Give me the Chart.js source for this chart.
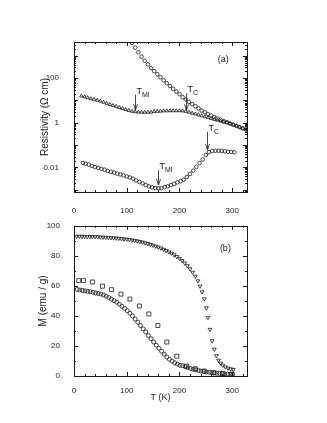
<!DOCTYPE html>
<html>
<head>
<meta charset="utf-8">
<script src="https://cdn.jsdelivr.net/npm/chart.js@4/dist/chart.umd.min.js"></script>
<style>
  body { margin: 0; background: #fff; }
  #wrap { position: relative; width: 327px; height: 423px; }
  #chartA { position: absolute; left: 0; top: 0; }
  #chartB { position: absolute; left: 0; top: 215px; }
</style>
</head>
<body>
<div id="wrap">
  <canvas id="chartA" width="327" height="215"></canvas>
  <canvas id="chartB" width="327" height="208"></canvas>
</div>
<script>
// ---- panel (a): resistivity, log scale ----
var tempUpper = [110,116,122,128,134,140,146,152,158,164,170,176,182,188,194,200,206,212,218,224,230,236,242,248,254,260,266,272,278,284,290,296,302,308,314,320,326];
var rhoUpper = [3800,2340,1450,910,600,410,280,205,150,110,79,59,44,33,25,19,14,11,8.5,6.8,5.5,4.4,3.5,2.95,2.45,2.1,1.8,1.55,1.35,1.17,1.05,0.91,0.81,0.72,0.63,0.56,0.49];

var tempMiddle = [14,20,26,32,38,44,50,56,62,68,74,80,86,92,98,104,110,116,122,128,134,140,146,152,158,164,170,176,182,188,194,200,206,212,218,224,230,236,242,248,254,260,266,272,278,284,290,296,302,308,314,320,326];
var rhoMiddle = [15.8,14.5,13.2,12,11.2,10.2,9.3,8.3,7.4,6.6,5.9,5.4,4.8,4.3,3.9,3.55,3.25,3.1,3.0,2.95,2.95,2.95,3.0,3.15,3.25,3.3,3.4,3.4,3.45,3.45,3.45,3.45,3.4,3.25,2.95,2.7,2.45,2.25,2.05,1.85,1.7,1.55,1.4,1.3,1.17,1.07,1.0,0.91,0.81,0.72,0.63,0.56,0.49];

var tempLower = [17,22,28,34,40,46,52,58,64,70,76,82,88,94,100,106,112,118,124,130,136,142,148,154,160,166,172,178,184,190,196,202,208,214,220,226,232,238,244,250,256,262,268,274,280,286,292,298,304];
var rhoLower = [0.0158,0.0145,0.0132,0.0115,0.0102,0.0093,0.0085,0.0078,0.0069,0.0063,0.0058,0.0052,0.0048,0.0043,0.0039,0.0035,0.0031,0.0026,0.0022,0.0019,0.0016,0.0014,0.00126,0.00117,0.00115,0.00117,0.00129,0.0014,0.0016,0.0018,0.0021,0.0024,0.0028,0.0037,0.0050,0.0071,0.0105,0.0155,0.0224,0.0355,0.048,0.054,0.055,0.055,0.054,0.052,0.050,0.049,0.047];

var rhoTickLabels = [100, 1, 0.01];
var tempTickLabels = [0, 100, 200, 300];

// arrows marking the transitions
var arrowTemps = [116, 212, 160, 253];
var arrowTops = [18, 21, 0.0074, 0.39];
var arrowTips = [3.7, 3.6, 0.0016, 0.06];
var arrowSubs = ['MI', 'C', 'MI', 'C'];

// ---- panel (b): magnetization ----
var tempTri = [5,10,15,20,25,30,35,40,45,50,55,60,65,70,75,80,85,90,95,100,105,110,115,120,125,130,135,140,145,150,155,160,165,170,175,180,185,190,195,200,205,210,215,220,225,230,235,239,243,247,251,254,258,262,266,270,274,278,282,287,292,297,302];
var magTri = [93.0,93.0,92.9,92.9,92.8,92.8,92.7,92.7,92.6,92.5,92.4,92.3,92.2,92.0,91.9,91.8,91.6,91.4,91.2,91.0,90.8,90.5,90.2,89.9,89.5,89.1,88.6,88.1,87.6,87.0,86.4,85.8,85.1,84.3,83.5,82.6,81.7,80.6,79.5,78.2,76.8,75.2,73.4,71.3,69.0,66.4,63.3,59.8,56.0,51.3,45.4,39.0,31.0,23.5,17.8,13.5,10.5,8.5,7.2,6.0,5.2,4.7,4.3];

var tempSq = [9,18,35,54,71,89,106,124,142,159,176,195,213,230,247,265,282,299];
var magSq = [63.5,63.5,62.6,59.8,57.5,54.5,51.2,46.6,41.3,33.6,22.6,13.2,6.6,4.8,3.3,2.2,1.6,1.2];

var tempCirc = [6,11,16,21,26,31,36,41,46,51,56,61,66,71,76,81,86,91,96,101,106,111,116,121,126,131,136,141,146,151,156,161,166,171,176,181,186,191,196,201,206,211,216,221,226,231,236,241,246,251,256,261,266,271,276,281,286,291,296,301];
var magCirc = [57.6,57.3,57.0,56.7,56.4,56.1,55.7,55.3,54.9,54.6,53.9,53.1,52.2,51.2,50.2,49.1,47.8,46.4,45.0,43.5,41.8,39.9,37.9,35.8,33.6,31.4,29.3,27.0,24.8,22.6,20.5,18.5,16.5,14.5,12.6,11.1,9.9,8.8,7.9,7.1,6.9,6.2,5.6,5.0,4.5,4.1,3.7,3.3,3.0,2.7,2.5,2.2,2.0,1.8,1.7,1.6,1.4,1.3,1.2,1.1];

var magTickLabels = [0, 20, 40, 60, 80, 100];

var panelTags = ['(a)', '(b)'];
var tagTemps = [283, 287];
var tagValues = [660, 85];

var FONT = "'Liberation Sans', Arial, sans-serif";
var INK = '#1a1a1a';
Chart.defaults.font.family = FONT;
Chart.defaults.color = INK;

function pts(xs, ys) {
    return xs.map(function (x, i) { return {x: x, y: ys[i]}; });
}

function markerSet(data, style, r, rot) {
    return {
        data: data,
        showLine: false,
        pointStyle: style,
        pointRadius: r,
        pointRotation: rot || 0,
        pointBorderWidth: 0.8,
        pointBorderColor: INK,
        pointBackgroundColor: 'rgba(255,255,255,0)'
    };
}

// frame around the plot with inward ticks on all four sides
var frameTicks = {
    id: 'frameTicks',
    afterDraw: function (chart, args, opts) {
        var ctx = chart.ctx, a = chart.chartArea;
        var xs = chart.scales.x, ys = chart.scales.y;
        ctx.save();
        ctx.strokeStyle = INK;
        ctx.lineWidth = 1;
        ctx.strokeRect(Math.round(a.left) + 0.5, Math.round(a.top) + 0.5,
            Math.round(a.right - a.left), Math.round(a.bottom - a.top));
        ctx.beginPath();
        opts.xTicks.forEach(function (t) {
            var px = Math.round(xs.getPixelForValue(t[0])) + 0.5;
            ctx.moveTo(px, a.bottom); ctx.lineTo(px, a.bottom - t[1]);
            ctx.moveTo(px, a.top); ctx.lineTo(px, a.top + t[1]);
        });
        opts.yTicks.forEach(function (t) {
            var py = Math.round(ys.getPixelForValue(t[0])) + 0.5;
            if (py < a.top || py > a.bottom) return;
            ctx.moveTo(a.left, py); ctx.lineTo(a.left + t[1], py);
            ctx.moveTo(a.right, py); ctx.lineTo(a.right - t[1], py);
        });
        ctx.stroke();

        var tx = xs.getPixelForValue(tagTemps[opts.tag]);
        var ty = ys.getPixelForValue(tagValues[opts.tag]);
        ctx.fillStyle = INK;
        ctx.font = '9px ' + FONT;
        ctx.textAlign = 'center';
        ctx.textBaseline = 'middle';
        ctx.fillText(panelTags[opts.tag], tx, ty);
        ctx.restore();
    }
};

var transitionArrows = {
    id: 'transitionArrows',
    afterDatasetsDraw: function (chart) {
        var ctx = chart.ctx, xs = chart.scales.x, ys = chart.scales.y;
        ctx.save();
        ctx.strokeStyle = INK;
        ctx.fillStyle = INK;
        ctx.lineWidth = 0.8;
        arrowTemps.forEach(function (t, i) {
            var x = Math.round(xs.getPixelForValue(t)) + 0.5;
            var y0 = ys.getPixelForValue(arrowTops[i]);
            var y1 = ys.getPixelForValue(arrowTips[i]);
            ctx.beginPath();
            ctx.moveTo(x, y0); ctx.lineTo(x, y1);
            ctx.moveTo(x - 2, y1 - 6); ctx.lineTo(x, y1); ctx.lineTo(x + 2, y1 - 6);
            ctx.stroke();
            ctx.textAlign = 'left';
            ctx.textBaseline = 'alphabetic';
            ctx.font = '9px ' + FONT;
            ctx.fillText('T', x + 1, y0 - 1);
            var w = ctx.measureText('T').width;
            ctx.font = '7px ' + FONT;
            ctx.fillText(arrowSubs[i], x + 1 + w, y0 + 2);
        });
        ctx.restore();
    }
};

var xTickMarks = [];
for (var v = 0; v <= 320; v += 20) xTickMarks.push([v, v % 100 === 0 ? 4 : 2]);

var logTickMarks = [];
for (var d = -4; d <= 3; d++) {
    for (var m = 1; m <= 9; m++) logTickMarks.push([m * Math.pow(10, d), m === 1 ? 4 : 2]);
}

var magTickMarks = [];
for (var k = 0; k <= 100; k += 10) magTickMarks.push([k, k % 20 === 0 ? 4 : 2]);

var chart1 = document.getElementById('chartA');
var myChart1 = new Chart(chart1, {
    type: 'scatter',
    data: {
        datasets: [
            markerSet(pts(tempUpper, rhoUpper), 'circle', 1.8),
            markerSet(pts(tempMiddle, rhoMiddle), 'triangle', 2),
            markerSet(pts(tempLower, rhoLower), 'circle', 1.8)
        ]
    },
    options: {
        responsive: false,
        animation: false,
        layout: { padding: { left: 0, right: 80, top: 42, bottom: 0 } },
        plugins: {
            legend: { display: false },
            tooltip: { enabled: false },
            frameTicks: { xTicks: xTickMarks, yTicks: logTickMarks, tag: 0 }
        },
        scales: {
            x: {
                type: 'linear',
                min: 0,
                max: 328,
                grid: { display: false },
                border: { display: false },
                afterBuildTicks: function (s) { s.ticks = tempTickLabels.map(function (t) { return {value: t}; }); },
                afterFit: function (s) { s.height = 23; },
                ticks: { font: { size: 8 }, padding: 6, maxRotation: 0, autoSkip: false }
            },
            y: {
                type: 'logarithmic',
                min: 0.00078,
                max: 4170,
                grid: { display: false },
                border: { display: false },
                afterBuildTicks: function (s) { s.ticks = rhoTickLabels.map(function (t) { return {value: t}; }); },
                afterFit: function (s) { s.width = 74; },
                ticks: {
                    font: { size: 8 },
                    padding: 7,
                    callback: function (val) { return String(val); }
                },
                title: {
                    display: true,
                    text: 'Resistivity (Ω cm)',
                    font: { size: 10 },
                    padding: { top: 39, bottom: 0 }
                }
            }
        }
    },
    plugins: [frameTicks, transitionArrows]
});

var chart2 = document.getElementById('chartB');
var myChart2 = new Chart(chart2, {
    type: 'scatter',
    data: {
        datasets: [
            markerSet(pts(tempTri, magTri), 'triangle', 2.2, 180),
            markerSet(pts(tempSq, magSq), 'rect', 2.8),
            markerSet(pts(tempCirc, magCirc), 'circle', 2)
        ]
    },
    options: {
        responsive: false,
        animation: false,
        layout: { padding: { left: 0, right: 80, top: 9, bottom: 0 } },
        plugins: {
            legend: { display: false },
            tooltip: { enabled: false },
            frameTicks: { xTicks: xTickMarks, yTicks: magTickMarks, tag: 1 }
        },
        scales: {
            x: {
                type: 'linear',
                min: 0,
                max: 328,
                grid: { display: false },
                border: { display: false },
                afterBuildTicks: function (s) { s.ticks = tempTickLabels.map(function (t) { return {value: t}; }); },
                afterFit: function (s) { s.height = 47; },
                ticks: { font: { size: 8 }, padding: 2, maxRotation: 0, autoSkip: false },
                title: {
                    display: true,
                    text: 'T (K)',
                    font: { size: 9 },
                    padding: { top: 0, bottom: 20 }
                }
            },
            y: {
                type: 'linear',
                min: 0,
                max: 100,
                grid: { display: false },
                border: { display: false },
                afterBuildTicks: function (s) { s.ticks = magTickLabels.map(function (t) { return {value: t}; }); },
                afterFit: function (s) { s.width = 74; },
                ticks: { font: { size: 8 }, padding: 6 },
                title: {
                    display: true,
                    text: 'M (emu / g)',
                    font: { size: 10 },
                    padding: { top: 37, bottom: 0 }
                }
            }
        }
    },
    plugins: [frameTicks]
});
</script>
</body>
</html>
